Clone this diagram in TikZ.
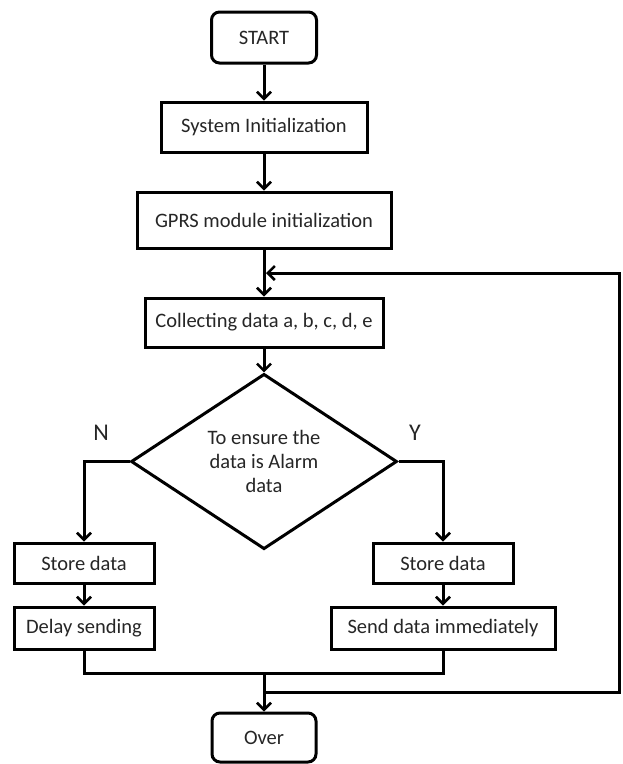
\documentclass[tikz,border=0pt]{standalone}
\usepackage{fontspec}
\setmainfont{Carlito}
\usetikzlibrary{shapes.geometric,arrows.meta}
\begin{document}
\begin{tikzpicture}[x=1pt,y=-1pt,
  every node/.style={font=\fontsize{20.5}{24}\selectfont, text=black!85},
  box/.style={draw, line width=3pt, inner sep=0pt, align=center},
  term/.style={box, rounded corners=8pt},
  dec/.style={draw, line width=3pt, shape=diamond, inner sep=0pt, align=center},
  conn/.style={line width=3pt},
  arr/.style={conn, -{Straight Barb[length=7pt,width=14pt,line width=2.5pt]}},
  lbl/.style={font=\fontsize{24}{28}\selectfont}
]
\useasboundingbox (0,0) rectangle (622,764);
\fill[white] (0,0) rectangle (622,764);

\node[term, minimum width=105pt, minimum height=51pt] (start) at (264,37.5) {START};
\node[box, minimum width=206pt, minimum height=50pt] (sys) at (264,127) {System Initialization};
\node[box, minimum width=254pt, minimum height=56pt] (gprs) at (264,220) {GPRS module initialization};
\node[box, minimum width=238pt, minimum height=49pt] (coll) at (264,322.5) {Collecting data a, b, c, d, e};
\node[dec, minimum width=266pt, minimum height=163pt] (chk) at (264,461.5) {To ensure the\\data is Alarm\\data};
\node[box, minimum width=140pt, minimum height=40pt] (ls) at (84,563) {Store data};
\node[box, minimum width=140pt, minimum height=42pt] (ld) at (84,628) {Delay sending};
\node[box, minimum width=140pt, minimum height=40pt] (rs) at (443,563) {Store data};
\node[box, minimum width=224pt, minimum height=42pt] (rd) at (443,628) {Send data immediately};
\node[term, minimum width=104pt, minimum height=49pt] (over) at (264,737.5) {Over};

\node[lbl] (n) at (101,433) {N};
\node[lbl] (y) at (415,433) {Y};

\coordinate (ml) at (84,673);
\coordinate (mr) at (443,673);
\coordinate (m) at (264,673);
\coordinate (fb) at (264,692);
\coordinate (c1) at (619,692);
\coordinate (c2) at (619,273);
\coordinate (fbin) at (266,273);

\draw[arr] (start) -- (sys);
\draw[arr] (sys) -- (gprs);
\draw[arr] (gprs) -- (coll);
\draw[arr] (coll) -- (chk.north);
\draw[arr] (chk.west) -| (ls.north);
\draw[arr] (chk.east) -| (rs.north);
\draw[arr] (ls) -- (ld);
\draw[arr] (rs) -- (rd);
\draw[conn] (ld.south) -- (ml) -- (mr) -- (rd.south);
\draw[arr] (m) -- (over.north);
\draw[arr, line join=miter] (fb) -- (c1) -- (c2) -- (fbin);
\end{tikzpicture}
\end{document}
